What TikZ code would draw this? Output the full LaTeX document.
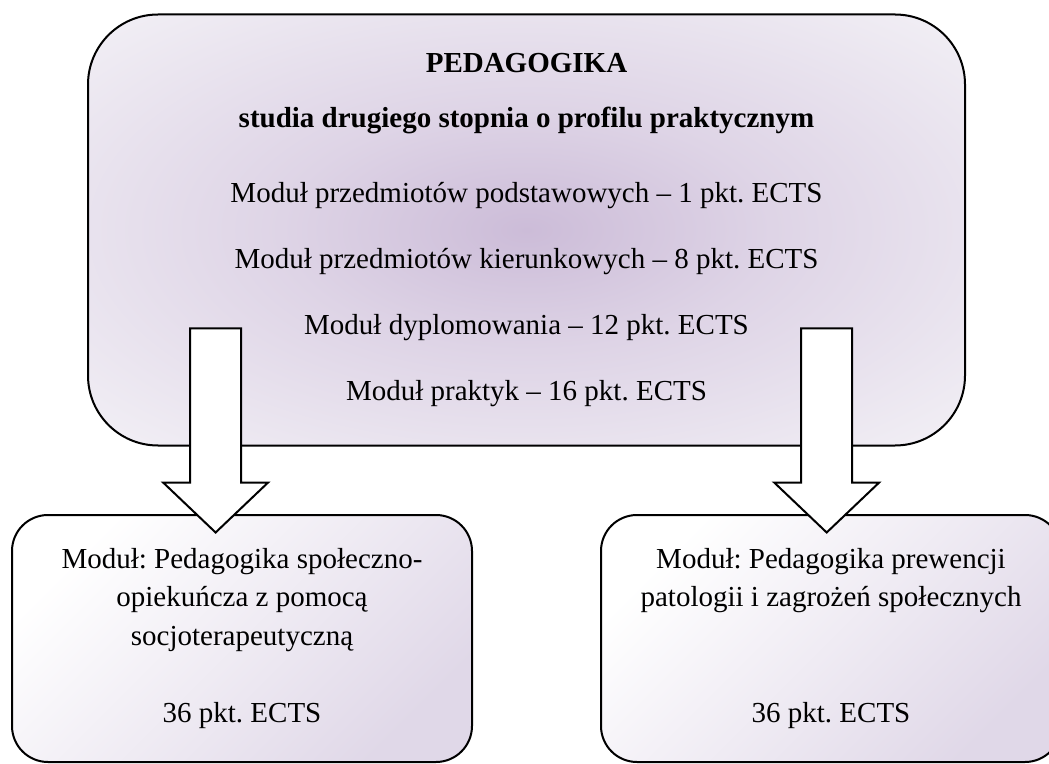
\documentclass[tikz,border=0pt]{standalone}
\usepackage{fontspec}
\setmainfont{Liberation Serif}
\usepackage{tikz}
\usetikzlibrary{calc}
\definecolor{pd_in}{RGB}{204, 188, 216}
\definecolor{pd_mid}{RGB}{222, 212, 230}
\definecolor{pd_out}{RGB}{243, 241, 246}
\definecolor{pd_low}{RGB}{224, 216, 232}
\pgfdeclareradialshading{pdglow}{\pgfpoint{0bp}{0bp}}{color(0bp)=(pd_in);
  color(14bp)=(pd_mid); color(36bp)=(pd_out); color(50bp)=(pd_out)}
\tikzstyle{tb}=[rectangle,rounded corners=35pt,draw=black,line width=1pt,
  shading=pdglow,minimum width=438.5pt,minimum height=215.5pt,inner sep=0pt,
  align=center,font=\fontsize{14.5}{33}\selectfont]
\tikzstyle{mb}=[rectangle,rounded corners=18pt,draw=black,line width=1pt,
  shading=axis,top color=white,bottom color=pd_low,shading angle=45,
  minimum width=230pt,minimum height=123.5pt,inner sep=0pt,
  align=center,font=\fontsize{14.5}{19.25}\selectfont]
\tikzstyle{ar}=[draw=black,fill=white,line width=1pt,line join=miter]
\tikzstyle{none}=[]
\frenchspacing

\begin{document}
\begin{tikzpicture}[x=0.5pt,y=-0.5pt]
            \useasboundingbox (0, 0) rectangle (1049, 764);
            \node [style=tb] (0) at (526.5, 230) {\textbf{PEDAGOGIKA}\\[-5.5pt]
              \textbf{studia drugiego stopnia o profilu praktycznym}\\[4.5pt]
              Moduł przedmiotów podstawowych – 1 pkt. ECTS\\
              Moduł przedmiotów kierunkowych – 8 pkt. ECTS\\
              Moduł dyplomowania – 12 pkt. ECTS\\
              Moduł praktyk – 16 pkt. ECTS};
            \node [style=mb] (1) at (242, 638.5) {Moduł: Pedagogika społeczno-\\
              opiekuńcza z pomocą\\socjoterapeutyczną\\[19.25pt]36 pkt. ECTS};
            \node [style=mb] (2) at (831, 638.5) {Moduł: Pedagogika prewencji\\
              patologii i zagrożeń społecznych\\[38.5pt]36 pkt. ECTS};
            \coordinate (3) at ($(0.south west)!0.1463!(0.south east)+(0,-118)$);
            \coordinate (4) at ($(0.south west)!0.8415!(0.south east)+(0,-118)$);
            \draw [style=ar] (3) ++(-25.5, 0) -- ++(51, 0) -- ++(0, 154) -- ++(27, 0)
              -- ++(-52.5, 50) -- ++(-52.5, -50) -- ++(27, 0) -- cycle;
            \draw [style=ar] (4) ++(-25.5, 0) -- ++(51, 0) -- ++(0, 154) -- ++(27, 0)
              -- ++(-52.5, 50) -- ++(-52.5, -50) -- ++(27, 0) -- cycle;
    \end{tikzpicture}
\end{document}
